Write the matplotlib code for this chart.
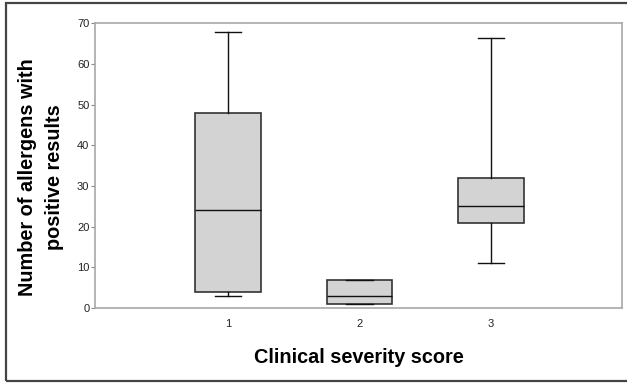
import matplotlib
matplotlib.use("Agg")
import matplotlib.pyplot as plt
from matplotlib.patches import Rectangle

plt.rcParams["font.family"] = ["Liberation Sans", "DejaVu Sans"]

# Box-plot statistics
scores   = [1, 2, 3]
whislo   = [3, 1, 11]
q1       = [4, 1, 21]
medians  = [24, 3, 25]
q3       = [48, 7, 32]
whishi   = [68, 7, 66.3]
yticks   = [0, 10, 20, 30, 40, 50, 60, 70]

stats = []
for s, lo, a, m, b, hi in zip(scores, whislo, q1, medians, q3, whishi):
    stats.append({"label": str(s), "whislo": lo, "q1": a, "med": m,
                  "q3": b, "whishi": hi, "fliers": []})

fig = plt.figure(figsize=(6.27, 3.84), dpi=100)
ax = fig.add_axes([0.1515, 0.198, 0.8405, 0.741])

ax.bxp(stats, positions=scores, widths=0.5, capwidths=0.2, patch_artist=True,
       showfliers=False,
       boxprops=dict(facecolor="#d3d3d3", edgecolor="#333333", linewidth=1.2),
       medianprops=dict(color="#111111", linewidth=1.0),
       whiskerprops=dict(color="#111111", linewidth=1.0),
       capprops=dict(color="#111111", linewidth=1.0))

ax.set_xlim(-0.015, 4.0)
ax.set_ylim(0, 70)
ax.set_yticks(yticks)
ax.set_xticks(scores)
ax.set_xticklabels([str(s) for s in scores])

for sp in ax.spines.values():
    sp.set_color("#a8a8a8")
    sp.set_linewidth(1.2)
ax.tick_params(axis="y", length=3, width=0.8, color="#888888", labelsize=8,
               labelcolor="#222222", pad=1)
ax.tick_params(axis="x", length=0, labelsize=8, labelcolor="#222222", pad=8)

ax.set_ylabel("Number of allergens with\npositive results", fontsize=14.3,
              fontweight="bold", linespacing=1.55)
ax.yaxis.set_label_coords(-0.059, 0.46)
ax.set_xlabel("Clinical severity score", fontsize=14.3, fontweight="bold")
ax.xaxis.set_label_coords(0.5, -0.142)

# outer frame around the whole figure
fig.patches.append(Rectangle((5.5 / 627, 3 / 384), 1.0, (381 - 3.3) / 384,
                             transform=fig.transFigure, fill=False,
                             edgecolor="#444444", linewidth=1.6, zorder=10))

fig.savefig("out.png", dpi=100)
